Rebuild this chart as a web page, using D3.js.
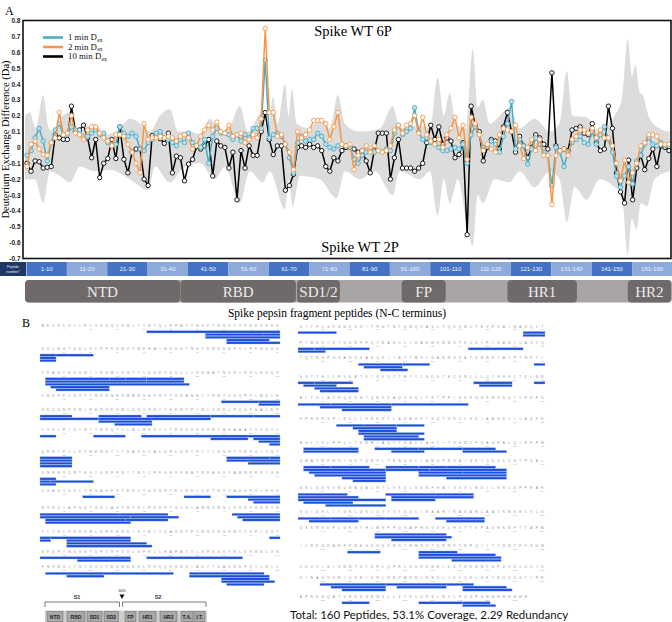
<!DOCTYPE html>
<html><head><meta charset="utf-8">
<script src="https://cdn.jsdelivr.net/npm/d3@7"></script>
<style>body{margin:0;background:#fff}svg{display:block}</style>
</head><body><svg id="c" width="672" height="622"></svg>
<script>
// ---------------- DATA ----------------
const peptides = d3.range(1, 161);
const dex1 = [ // 1 min Dex (cyan)
-0.05,-0.02,0.06,0.12,0.04,-0.085,0.03,0.11,0.15,0.08,
0.08,0.13,0.11,0.09,0.07,0.07,0.09,0.11,0.08,0.09,
0.03,0.02,0.02,0.13,0.09,0.07,0.09,0.07,-0.01,-0.02,
0.03,0.05,0.09,0.10,0.06,0.05,0.03,0.01,0.05,0.03,
0.09,0.03,0.01,0.00,0.05,-0.10,0.07,0.12,0.09,0.09,
0.08,0.05,0.08,0.04,0.08,0.06,0.12,0.12,0.12,0.55,
0.06,0.08,0.09,0.07,0.02,-0.065,-0.16,0.03,0.07,0.04,
0.05,0.05,0.09,0.07,0.02,0.00,-0.01,0.01,0.02,0.01,
0.00,-0.075,-0.10,-0.05,-0.03,-0.03,-0.03,-0.02,-0.03,-0.01,
-0.02,0.09,0.14,0.08,0.10,0.12,0.25,0.10,0.05,0.06,
0.03,0.02,0.00,-0.02,-0.02,-0.01,0.00,-0.01,0.02,-0.10,
0.08,0.13,0.08,0.00,0.01,0.04,0.02,-0.03,0.07,0.15,
0.29,-0.01,0.05,0.01,-0.105,-0.01,0.06,0.02,-0.03,-0.05,
-0.24,0.00,-0.03,-0.12,-0.03,0.03,0.05,0.07,0.03,0.02,
0.10,0.02,0.08,0.13,0.05,-0.03,-0.18,-0.25,-0.18,-0.12,
-0.23,-0.085,-0.05,0.02,0.06,0.02,0.01,0.03,0.01,0.02];
const dex2 = [ // 2 min Dex (orange)
-0.12,0.02,0.04,-0.01,-0.045,-0.05,0.03,0.06,0.22,0.08,
0.09,0.20,0.09,0.08,0.05,0.11,0.13,0.13,0.09,0.06,
0.04,0.01,0.08,0.08,0.07,0.02,-0.03,-0.10,-0.16,0.15,
0.05,0.06,0.06,0.07,0.06,0.07,0.06,0.04,0.07,0.08,
0.06,-0.01,0.01,0.07,0.11,0.14,0.11,0.16,0.10,0.09,
0.14,0.07,0.08,0.09,0.03,0.05,0.08,0.06,0.18,0.75,
0.22,0.22,0.07,0.08,0.02,-0.03,-0.14,0.10,0.06,0.08,
0.11,0.17,0.17,0.17,0.15,0.05,0.13,0.22,0.02,0.01,
0.02,-0.14,-0.05,-0.02,0.01,-0.03,0.01,-0.02,-0.03,-0.02,
0.01,0.11,0.14,0.09,0.14,0.15,0.20,0.09,0.19,0.08,
0.04,0.02,0.05,0.00,0.08,0.12,0.19,0.06,0.14,-0.075,
0.19,0.15,0.08,-0.02,0.02,-0.01,-0.03,0.08,0.12,0.11,
0.10,0.14,0.01,-0.07,0.00,0.05,-0.02,0.05,-0.05,-0.05,
-0.36,-0.05,-0.02,-0.01,-0.05,0.05,0.07,0.11,0.11,0.09,
0.12,0.06,0.11,0.06,0.06,0.01,-0.10,-0.21,-0.08,-0.22,
-0.16,-0.10,0.01,0.03,0.08,0.08,0.07,0.02,0.02,0.02];
const dex10 = [ // 10 min Dex (black)
-0.10,-0.15,-0.085,-0.09,-0.13,-0.125,-0.12,0.08,0.06,0.05,
0.05,0.26,0.10,0.11,0.14,0.06,-0.065,0.05,-0.19,-0.10,
-0.07,0.05,-0.07,0.13,-0.075,-0.16,-0.03,-0.01,-0.01,-0.20,
-0.24,0.075,0.07,0.055,0.025,0.09,-0.16,-0.055,-0.065,-0.21,
-0.105,-0.075,0.005,-0.01,0.01,0.05,-0.18,0.04,0.01,0.00,
-0.13,-0.03,-0.33,-0.02,-0.13,0.01,-0.05,-0.05,0.10,0.22,
0.05,-0.045,0.01,0.01,-0.27,-0.24,-0.17,0.00,0.01,0.00,
0.02,0.00,0.01,-0.02,-0.12,-0.15,-0.065,-0.085,-0.02,0.00,
0.00,-0.01,-0.03,-0.02,-0.085,-0.16,-0.02,0.09,0.09,0.09,
-0.20,-0.065,0.05,-0.13,-0.13,-0.13,-0.15,-0.13,-0.10,0.03,
0.14,0.05,0.13,0.02,0.06,0.04,-0.065,-0.045,0.03,-0.55,
0.26,0.14,0.10,-0.085,0.00,0.05,0.04,-0.01,0.13,0.22,
0.10,-0.03,0.07,0.01,-0.065,0.00,0.08,0.06,0.02,-0.01,
0.47,0.01,-0.02,-0.01,-0.02,0.11,0.12,0.13,0.09,0.08,
0.15,0.03,-0.02,-0.01,0.26,0.12,-0.16,-0.28,-0.35,-0.08,
-0.33,-0.13,-0.05,-0.14,-0.07,-0.01,-0.12,0.01,0.00,-0.02];
// grey variability band: upper edge and lower edge (peptide position, value)
const bandHiPep = [0.5,1.7,3.2,5.0,6.4,7.9,9.7,11.6,13.4,15.4,17.8,20.3,24,26.5,29,31.4,33.9,36.4,38.4,41.3,43.8,46.3,48.8,51.2,53.7,55.7,59.2,60.7,61.9,63.1,64.9,65.8,66.6,67.8,71,73.5,76,78,79.7,83.4,88.4,91.6,93.3,98.3,100.8,102.7,104.2,105.7,107.2,109.7,111.4,112.6,113.9,115.6,120.5,123,126.7,130.5,132.9,134.7,136.1,139.6,142.8,146.5,148.3,149.8,150.8,151.7,152.7,153.5,155.2,157.7,160.2];
const bandHi    = [0.20,0.22,0.12,0.33,0.12,0.10,0.20,0.22,0.10,0.12,0.15,0.08,0.12,0.18,0.15,0.10,0.20,0.24,0.10,0.10,0.08,0.18,0.10,0.13,0.26,0.10,0.22,0.10,0.32,0.15,0.40,0.20,0.37,0.15,0.12,0.18,0.12,0.33,0.15,0.10,0.12,0.26,0.12,0.14,0.12,0.44,0.20,0.34,0.15,0.12,0.62,0.25,0.30,0.15,0.25,0.12,0.18,0.10,0.15,0.48,0.20,0.19,0.10,0.20,0.30,0.68,0.45,0.52,0.35,0.33,0.18,0.12,0.10];
const bandLoPep = [0.5,3,5,6.7,9.2,11.6,14.1,17.8,21.5,26.5,31,32.7,36.4,40.1,43.8,47.5,50,53.7,56.2,59.4,61.1,64.9,65.8,66.8,68.6,73.5,77.7,79.7,83.4,87.1,91.6,93.3,98.3,100.8,102.7,104.2,105.7,107.7,109.7,111.4,112.6,113.9,116.8,120.5,123,126.7,130.5,132.9,134.7,136.6,139.6,142.8,146.5,148.3,149.8,150.8,152,153,154.5,156.4,160.2];
const bandLo    = [-0.20,-0.20,-0.35,-0.15,-0.18,-0.22,-0.12,-0.15,-0.14,-0.20,-0.27,-0.12,-0.22,-0.12,-0.10,-0.20,-0.12,-0.35,-0.15,-0.22,-0.15,-0.39,-0.20,-0.37,-0.18,-0.20,-0.32,-0.15,-0.20,-0.15,-0.30,-0.15,-0.20,-0.15,-0.43,-0.20,-0.35,-0.20,-0.45,-0.62,-0.30,-0.35,-0.20,-0.22,-0.15,-0.25,-0.15,-0.20,-0.47,-0.25,-0.33,-0.20,-0.25,-0.30,-0.68,-0.45,-0.52,-0.35,-0.37,-0.20,-0.15];
const yTicks = [0.8,0.7,0.6,0.5,0.4,0.3,0.2,0.1,0,-0.1,-0.2,-0.3,-0.4,-0.5,-0.6,-0.7];
const seriesNames = ["1 min D","2 min D","10 min D"];
const peptideGroups = ["1-10","11-20","21-30","31-40","41-50","51-60","61-70","71-80","81-90","91-100","101-110","111-120","121-130","131-140","141-150","151-160"];
const domainNames = ["NTD","RBD","SD1/2","FP","HR1","HR2"];
const domainStart = [0.5,39.0,67.9,93.8,120.0,149.8];
const domainEnd   = [38.9,67.6,78.5,104.7,137.2,160.5];
// Panel B
const sequence = "MFVFLVLLPLVSSQCVNLTTRTQLPPAYTNSFTRGVYYPDKVFRSSVLHSTQDLFLPFFSNVTWFHAIHVSGTNGTKRFDNPVLPFNDGVYFASTEKSNIIRGWIFGTTLDSKTQSLLIVNNATNVVIKVCEFQFCNDPFLGVYYHKNNKSWMESEFRVYSSANNCTFEYVSQPFLMDLEGKQGNFKNLREFVFKNIDGYFKIYSKHTPINLVRDLPQGFSALEPLVDLPIGINITRFQTLLALHRSYLTPGDSSSGWTAGAAAYYVGYLQPRTFLLKYNENGTITDAVDCALDPLSETKCTLKSFTVEKGIYQTSNFRVQPTESIVRFPNITNLCPFGEVFNATRFASVYAWNRKRISNCVADYSVLYNSASFSTFKCYGVSPTKLNDLCFTNVYADSFVIRGDEVRQIAPGQTGKIADYNYKLPDDFTGCVIAWNSNNLDSKVGGNYNYLYRLFRKSNLKPFERDISTEIYQAGSTPCNGVEGFNCYFPLQSYGFQPTNGVGYQPYRVVVLSFELLHAPATVCGPKKSTNLVKNKCVNFNFNGLTGTGVLTESNKKFLPFQQFGRDIADTTDAVRDPQTLEILDITPCSFGGVSVITPGTNTSNQVAVLYQDVNCTEVPVAIHADQLTPTWRVYSTGSNVFQTRAGCLIGAEHVNNSYECDIPIGAGICASYQTQTNSPGSASSVASQSIIAYTMSLGAENSVAYSNNSIAIPTNFTISVTTEILPVSMTKTSVDCTMYICGDSTECSNLLLQYGSFCTQLNRALTGIAVEQDKNTQEVFAQVKQIYKTPPIKDFGGFNFSQILPDPSKPSKRSPIEDLLFNKVTLADAGFIKQYGDCLGDIAARDLICAQKFNGLTVLPPLLTDEMIAQYTSALLAGTITSGWTFGAGPALQIPFPMQMAYRFNGIGVTQNVLYENQKLIANQFNSAIGKIQDSLSSTPSALGKLQDVVNQNAQALNTLVKQLSSNFGAISSVLNDILSRLDPPEAEVQIDRLITGRLQSLQTYVTQQLIRAAEIRASANLAATKMSECVLGQSKRVDFCGKGYHLMSFPQSAPHGVVFLHVTYVPAQEKNFTTAPAICHDGKAHFPREGVFVSNGTHWFVTQRNFYEPQIITTDNTFVSGNCDVVIGIVNNTVYDPLQPELDSFKEELDKYFKNHTSPDVDLGDISGINASVVNIQKEIDRLNEVAKNLNESLIDLQELGKYEQGSGYIPEAPRDGQAYVRKDGEWVLLSTFLGRSLEVLFQGPGHHHHHHHH";
const coverageBars = [
 [21,45],[32,42],[43,45],[32,45],[36,43],[36,45],
 [46,48],[49,55],[46,48],[46,48],
 [92,103],[104,106],[107,110],[111,117],[92,110],[111,117],[92,118],[93,103],[94,103],
 [170,176],[177,180],[177,180],
 [181,186],[192,199],[201,212],[213,220],[221,225],[181,191],[192,201],[202,212],[192,201],[195,201],
 [226,228],[236,241],[245,264],[265,270],[258,264],[266,270],[267,270],[269,270],
 [271,276],[306,313],[314,315],[271,276],[306,309],[310,315],[271,276],[310,315],[271,276],
 [316,318],[316,317],[318,325],[316,318],
 [369,374],[388,392],[396,405],[400,405],[401,405],
 [406,420],[421,429],[442,450],[406,422],[423,431],[443,450],[407,421],[422,429],[444,450],[407,422],
 [451,452],[453,467],[494,495],[451,452],[456,467],[456,470],[456,471],
 [496,512],[516,533],[503,512],
 [542,552],[553,565],[569,582],[546,552],[569,583],[575,583],[575,584],[576,582],
 [586,592],[627,630],[627,630],
 [631,633],[634,643],[662,671],[631,635],
 [687,694],[695,699],[719,720],[688,694],[691,695],
 [721,723],[724,730],[753,759],[764,765],[722,727],[754,759],[724,731],[725,731],
 [766,771],[772,782],[783,796],[770,782],[774,782],
 [818,822],[823,828],[829,833],[821,828],[822,828],[822,833],[823,832],[823,833],
 [857,866],[870,877],[878,885],[886,891],[857,866],[886,893],[873,878],
 [902,906],[907,913],[917,922],[923,927],[928,936],[902,916],[917,924],[925,938],[903,916],[923,930],[931,938],[904,916],[923,938],[909,916],[928,938],[911,916],
 [946,954],[962,970],[971,977],[946,956],[963,977],[946,961],[963,970],[947,955],[951,961],
 [991,996],[997,1001],[1002,1006],[1007,1012],[1016,1024],[993,1001],[1018,1024],
 [1050,1062],[1050,1063],[1053,1062],
 [1090,1095],[1103,1109],[1103,1116],[1103,1117],[1109,1117],
 [1175,1186],[1187,1197],[1198,1202],[1177,1186],[1189,1197],[1201,1208],[1179,1186],[1201,1209],
 [1224,1228],[1238,1245],[1246,1250],[1246,1251]
];
const miniDomains = ["NTD","RBD","SD1","SD2","FP","HR1","HR2","T.A.","I.T."];
const summaryText = "Total: 160 Peptides, 53.1% Coverage, 2.29 Redundancy";

// ---------------- LAYOUT ----------------
const svg = d3.select("#c");
const serif = "'Liberation Serif','Times New Roman',serif";
const sans = "'Liberation Sans',Arial,sans-serif";
const L = 23, R = 671, T = 20.5, B = 258.5;
const x = d3.scaleLinear().domain([0.5, 160.5]).range([25, 671]);
const y = d3.scaleLinear().domain([-0.7, 0.8]).range([B, T]);

svg.append("text").attr("x",5).attr("y",15).attr("font-family",serif).attr("font-size",12).text("A");

svg.append("clipPath").attr("id","clip").append("rect").attr("x",L).attr("y",T-1).attr("width",R-L).attr("height",B-T+2);
const plot = svg.append("g").attr("clip-path","url(#clip)");

// band (upper part above ~0, lower part below ~0)
const bandCurve = d3.curveMonotoneX;
plot.append("path").datum(bandHiPep.map((p,i)=>({p, v:bandHi[i]})))
  .attr("d", d3.area().x(d=>x(d.p)).y0(y(-0.03)).y1(d=>y(d.v)).curve(bandCurve))
  .attr("fill","#dcdcdc");
plot.append("path").datum(bandLoPep.map((p,i)=>({p, v:bandLo[i]})))
  .attr("d", d3.area().x(d=>x(d.p)).y0(y(0.03)).y1(d=>y(d.v)).curve(bandCurve))
  .attr("fill","#dcdcdc");

const series = [
  {vals:dex10, color:"#000000", fill:"#ffffff"},
  {vals:dex1,  color:"#4bacc6", fill:"#b9e2ee"},
  {vals:dex2,  color:"#f79646", fill:"#ffffff"}
];
const line = d3.line().x((d,i)=>x(peptides[i])).y(d=>y(d));
series.forEach(s=>{
  plot.append("path").datum(s.vals).attr("d",line).attr("fill","none")
    .attr("stroke",s.color).attr("stroke-width",1.5).attr("stroke-linejoin","round");
  plot.append("g").selectAll("circle").data(s.vals).join("circle")
    .attr("cx",(d,i)=>x(peptides[i])).attr("cy",d=>y(d)).attr("r",2.2)
    .attr("fill",s.fill).attr("stroke",s.color).attr("stroke-width",0.9);
});

// frame
svg.append("rect").attr("x",L).attr("y",T).attr("width",R-L).attr("height",B-T)
  .attr("fill","none").attr("stroke","#111").attr("stroke-width",1.6);

// y axis labels
const ax = svg.append("g").attr("transform",`translate(${L},0)`)
  .call(d3.axisLeft(y).tickValues(yTicks).tickSize(0).tickPadding(2.5).tickFormat(d=> d===0 ? "0" : d.toFixed(1)));
ax.select(".domain").remove();
ax.selectAll("text").attr("font-family",sans).attr("font-size",6.5).attr("font-weight","bold").attr("fill","#222");

svg.append("text").attr("transform",`translate(9,${(T+B)/2}) rotate(-90)`)
  .attr("text-anchor","middle").attr("font-family",serif).attr("font-size",10.5)
  .text("Deuterium Exchange Difference (Da)");

// titles
svg.append("text").attr("x",353).attr("y",36).attr("text-anchor","middle").attr("font-family",serif).attr("font-size",14.5).text("Spike WT 6P");
svg.append("text").attr("x",360).attr("y",252).attr("text-anchor","middle").attr("font-family",serif).attr("font-size",14.5).text("Spike WT 2P");

// legend (main label and subscript as separate texts)
const legColors = ["#4bacc6","#f79646","#000000"];
seriesNames.forEach((n,i)=>{
  const ly = 37.5 + i*9.5;
  svg.append("line").attr("x1",43).attr("x2",63).attr("y1",ly).attr("y2",ly).attr("stroke",legColors[i]).attr("stroke-width",2.6);
  const t = svg.append("text").attr("x",68).attr("y",ly+2.7).attr("font-family",serif).attr("font-size",8.8).attr("fill","#111").text(n);
  const w = t.node().getComputedTextLength();
  svg.append("text").attr("x",68 + w + 0.3).attr("y",ly+4.2).attr("font-family",serif).attr("font-size",5.8).attr("fill","#111").text("ex");
});

// peptide number bar
const pb = svg.append("g");
pb.append("rect").attr("x",0).attr("y",262).attr("width",26).attr("height",14).attr("fill","#203864");
pb.append("text").attr("x",13).attr("y",268).attr("text-anchor","middle").attr("font-family",sans).attr("font-size",3.6).attr("fill","#e8eef8").text("Peptide");
pb.append("text").attr("x",13).attr("y",272.5).attr("text-anchor","middle").attr("font-family",sans).attr("font-size",3.6).attr("fill","#e8eef8").text("number*");
peptideGroups.forEach((g,i)=>{
  const x0 = x(0.5 + i*10) + 1.5, x1 = x(10.5 + i*10) + 1.5;
  pb.append("rect").attr("x",x0).attr("y",262).attr("width",Math.min(x1,672)-x0).attr("height",14)
    .attr("fill", i%2===0 ? "#4472c4" : "#8eaadb");
  pb.append("text").attr("x",(x0+Math.min(x1,672))/2).attr("y",271.3).attr("text-anchor","middle")
    .attr("font-family",sans).attr("font-size",6).attr("fill","#eef3fb").text(g);
});

// domain bar
const db = svg.append("g");
db.append("rect").attr("x",25).attr("y",280).attr("width",647).attr("height",22.5).attr("rx",4).attr("fill","#a9a5a4");
domainNames.forEach((n,i)=>{
  const x0 = x(domainStart[i]), x1 = Math.min(x(domainEnd[i]), 672);
  db.append("rect").attr("x",x0).attr("y",280).attr("width",x1-x0).attr("height",22.5).attr("rx",4).attr("fill","#6f6a69");
  db.append("text").attr("x",(x0+x1)/2).attr("y",296.5).attr("text-anchor","middle").attr("font-family",serif)
    .attr("font-size",15).attr("fill","#ececec").text(n);
});

// ---------------- PANEL B ----------------
svg.append("text").attr("x",22).attr("y",327).attr("font-family",serif).attr("font-size",12).text("B");
svg.append("text").attr("x",337).attr("y",317).attr("text-anchor","middle").attr("font-family",serif).attr("font-size",11.5).text("Spike pepsin fragment peptides (N-C terminus)");

const perRow = 45;
const leftRowY = [325.7,349,372.7,395.7,410,430,451.7,472.7,490.7,508.3,531.7,551.7,567.3];
const rightRowY = [326.5,342.7,358.3,376.7,398.3,419.3,442.7,461,488.3,512.3,528.3,546,566.7,578.3,596.7];
const nRows = Math.ceil(sequence.length / perRow);
const gB = svg.append("g");
for (let r = 0; r < nRows; r++) {
  const left = r < leftRowY.length;
  const ry = left ? leftRowY[r] : rightRowY[r - leftRowY.length];
  if (ry === undefined) continue;
  const x0 = left ? 40 : 298, dx = left ? 240/45 : 247/45;
  const s0 = r*perRow + 1;
  const letters = sequence.slice(r*perRow, r*perRow + perRow).split("");
  gB.append("g").selectAll("text").data(letters).join("text")
    .attr("x",(d,i)=>x0 + (i+0.5)*dx).attr("y",ry+1.1).attr("text-anchor","middle")
    .attr("font-family",sans).attr("font-size",3.1).attr("fill","#8a8a8a").text(d=>d);
  const nums = d3.range(s0, s0+letters.length).filter(n=>n%5===0);
  gB.append("g").selectAll("text").data(nums).join("text")
    .attr("x",n=>x0 + (n - s0 + 0.5)*dx).attr("y",ry+3.9).attr("text-anchor","middle")
    .attr("font-family",sans).attr("font-size",2.1).attr("fill","#a0a0a0").text(n=>n);
  // bars in this row, first-fit stacking
  const rowBars = coverageBars.filter(b=>b[0] >= s0 && b[0] < s0+perRow);
  const levels = [];
  rowBars.forEach(b=>{
    let lv = 0;
    while (levels[lv] && levels[lv].some(o=> !(b[0] > o[1] || b[1] < o[0]))) lv++;
    (levels[lv] = levels[lv] || []).push(b);
    const bx0 = x0 + (b[0]-s0)*dx, bx1 = x0 + (Math.min(b[1], s0+perRow-1) - s0 + 1)*dx;
    gB.append("rect").attr("x",bx0).attr("y",ry+5 + lv*2.75).attr("width",bx1-bx0).attr("height",2.3)
      .attr("fill","#1c4fd6").attr("stroke","#9cb3f0").attr("stroke-width",0.35);
  });
}

// S1 / S2 schematic
const sg = svg.append("g");
sg.append("text").attr("x",122).attr("y",592).attr("text-anchor","middle").attr("font-family",sans).attr("font-size",4.2).attr("fill","#333").text("605");
sg.append("path").attr("d","M119.5,594.5 L124.5,594.5 L122,599 Z").attr("fill","#111");
sg.append("text").attr("x",77).attr("y",598.5).attr("text-anchor","middle").attr("font-family",sans).attr("font-weight","bold").attr("font-size",5.5).attr("fill","#333").text("S1");
sg.append("text").attr("x",158).attr("y",598.5).attr("text-anchor","middle").attr("font-family",sans).attr("font-weight","bold").attr("font-size",5.5).attr("fill","#333").text("S2");
sg.append("path").attr("d","M45,607 V602 H119.5 V607 M122.5,607 V602 H206 V607").attr("fill","none").attr("stroke","#444").attr("stroke-width",0.7);
sg.append("rect").attr("x",45).attr("y",610.5).attr("width",162).attr("height",12).attr("fill","#cfcfcf");
const mdX = [47,67,87,104,125,139,160,181,194];
const mdW = [16,18,15,14.5,11,17,17,12,11];
miniDomains.forEach((n,i)=>{
  sg.append("rect").attr("x",mdX[i]).attr("y",611.5).attr("width",mdW[i]).attr("height",10).attr("fill","#a8a8a8").attr("stroke","#666").attr("stroke-width",0.5);
  sg.append("text").attr("x",mdX[i]+mdW[i]/2).attr("y",618.5).attr("text-anchor","middle").attr("font-family",sans).attr("font-weight","bold").attr("font-size",5).attr("fill","#222").text(n);
});

svg.append("text").attr("x",290).attr("y",619).attr("font-family","Lato,'Open Sans',sans-serif").attr("font-size",11.5).attr("fill","#111").text(summaryText);
</script></body></html>
